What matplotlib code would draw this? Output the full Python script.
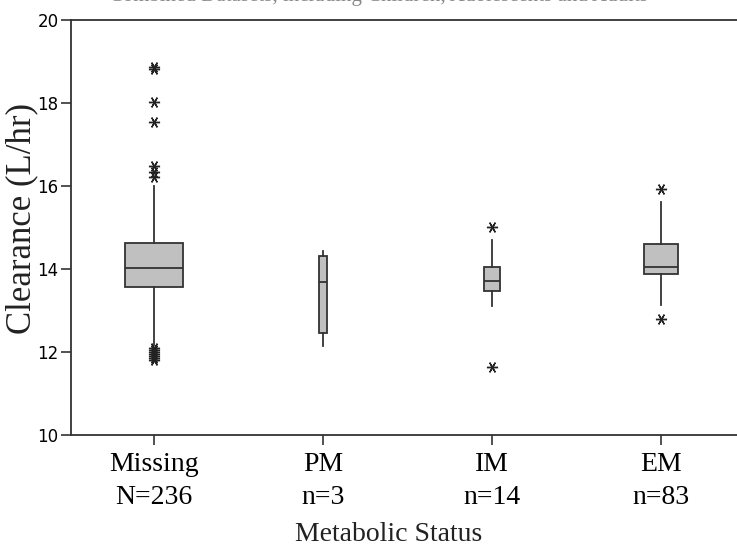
import numpy as np
import matplotlib
matplotlib.use("Agg")
import matplotlib.pyplot as plt

# values
groups = ["Missing", "PM", "IM", "EM"]
counts = [236, 3, 14, 83]
count_labels = ["N=236", "n=3", "n=14", "n=83"]

q1 = [13.57, 12.46, 13.47, 13.88]
med = [14.02, 13.69, 13.71, 14.05]
q3 = [14.63, 14.31, 14.05, 14.60]
whislo = [12.17, 12.14, 13.11, 13.13]
whishi = [16.00, 14.43, 14.70, 15.61]
fliers = [
    [18.86, 18.82, 18.02, 17.54, 16.48, 16.34, 16.22,
     12.10, 12.05, 12.00, 11.95, 11.90, 11.85, 11.80],
    [],
    [15.01, 11.64],
    [15.93, 12.80],
]

title = "Combined Datasets, including Children, Adolescents and Adults"

serif = ["Liberation Serif", "DejaVu Serif"]

fig = plt.figure(figsize=(7.37, 5.46), dpi=100)
ax = fig.add_axes([71 / 737, 1 - 435 / 546, 1 - 71 / 737, (435 - 20) / 546])

stats = []
for i in range(len(groups)):
    stats.append(dict(q1=q1[i], med=med[i], q3=q3[i], whislo=whislo[i],
                      whishi=whishi[i], fliers=fliers[i], label=groups[i]))

# box width grows with sqrt(n)
widths = [0.33 * np.sqrt(c / counts[0]) + 0.01 for c in counts]
pos = np.arange(1, len(groups) + 1)

edge = "#333333"
ax.bxp(stats, positions=pos, widths=widths, patch_artist=True,
       showcaps=False,
       boxprops=dict(facecolor="#c0c0c0", edgecolor=edge, linewidth=1.3),
       medianprops=dict(color=edge, linewidth=1.3),
       whiskerprops=dict(color=edge, linewidth=1.3),
       flierprops=dict(marker=(6, 2, 90), markersize=8, markeredgecolor="#222222",
                       markeredgewidth=1.0, linestyle="none"))

ax.set_xlim(0.51, 4.45)
ax.set_ylim(10, 20)
ax.set_yticks([10, 12, 14, 16, 18, 20])
ax.set_xticks(pos)
ax.set_xticklabels([g + "\n" + c for g, c in zip(groups, count_labels)],
                   fontfamily=serif, fontsize=20, linespacing=1.45)
for lab in ax.get_yticklabels():
    lab.set_fontsize(12)

ax.tick_params(axis="y", length=7, width=1.2, color=edge, pad=2)
ax.tick_params(axis="x", length=7, width=1.2, color=edge, pad=5)
ax.spines["right"].set_visible(False)
for s in ["left", "top", "bottom"]:
    ax.spines[s].set_color(edge)
    ax.spines[s].set_linewidth(1.3)

fig.text(22 / 737, 1 - 218 / 546, "Clearance (L/hr)", rotation=90,
         ha="center", va="center", fontfamily=serif, fontsize=25, color="#222222")
fig.text(389 / 737, 5 / 546, "Metabolic Status", ha="center", va="baseline",
         fontfamily=serif, fontsize=20, color="#222222")
fig.text(378 / 737, 1 - 1 / 546, title, ha="center", va="baseline",
         fontfamily=serif, fontsize=15, color="#888888")

fig.savefig("out.png", dpi=100)
